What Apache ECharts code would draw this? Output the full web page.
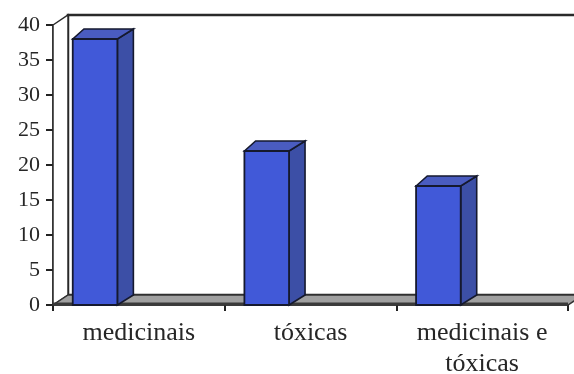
<!DOCTYPE html>
<html>
<head>
<meta charset="utf-8">
<script src="https://cdn.jsdelivr.net/npm/echarts@6/dist/echarts.min.js"></script>
<style>
html,body{margin:0;padding:0;background:#fff;}
#chart{width:574px;height:374px;}
</style>
</head>
<body>
<div id="chart"></div>
<script>
var categories = ['medicinais', 'tóxicas', 'medicinais e\ntóxicas'];
var values = [38, 22, 17];
var yTicks = { min: 0, max: 40, interval: 5 };

var DX = 15, DY = -10;      // wall depth offset
var BDX = 16, BDY = -10;    // bar depth offset

var chart = echarts.init(document.getElementById('chart'), null, { renderer: 'canvas' });

function renderWalls(params, api) {
  var cs = params.coordSys;
  var x0 = cs.x, y0 = cs.y, x1 = cs.x + cs.width, y1 = cs.y + cs.height;
  return {
    type: 'group',
    children: [
      { // back wall
        type: 'rect',
        shape: { x: x0 + DX, y: y0 + DY, width: cs.width, height: cs.height },
        style: { fill: '#ffffff', stroke: '#2a2a2a', lineWidth: 2.5 }
      },
      { // left wall
        type: 'polygon',
        shape: { points: [[x0, y0], [x0 + DX, y0 + DY], [x0 + DX, y1 + DY], [x0, y1]] },
        style: { fill: '#ffffff', stroke: '#2a2a2a', lineWidth: 1.5 }
      },
      { // floor
        type: 'polygon',
        shape: { points: [[x0, y1], [x1, y1], [x1 + DX, y1 + DY], [x0 + DX, y1 + DY]] },
        style: { fill: '#a0a0a0', stroke: '#333333', lineWidth: 1.5 }
      },
      { // floor front thickness
        type: 'rect',
        shape: { x: x0, y: y1 - 2.5, width: cs.width, height: 2.5 },
        style: { fill: '#3a3a3a' }
      }
    ]
  };
}

function renderBar(params, api) {
  var idx = api.value(0);
  var top = api.coord([idx, api.value(1)]);
  var base = api.coord([idx, 0]);
  var band = api.size([1, 0])[0];
  var left = top[0] - 0.385 * band;
  var w = 0.26 * band;
  var right = left + w;
  var ty = top[1], by = base[1];
  return {
    type: 'group',
    children: [
      {
        type: 'polygon',
        shape: { points: [[right, ty], [right + BDX, ty + BDY], [right + BDX, by + BDY], [right, by]] },
        style: { fill: '#3c4fa6', stroke: '#15192e', lineWidth: 1.6 }
      },
      {
        type: 'polygon',
        shape: { points: [[left, ty], [left + BDX * 0.7, ty + BDY], [right + BDX, ty + BDY], [right, ty]] },
        style: { fill: '#4a5cc0', stroke: '#15192e', lineWidth: 1.6 }
      },
      {
        type: 'rect',
        shape: { x: left, y: ty, width: w, height: by - ty },
        style: { fill: '#4159d8', stroke: '#15192e', lineWidth: 1.8 }
      }
    ]
  };
}

chart.setOption({
  animation: false,
  backgroundColor: '#ffffff',
  grid: { left: 53, right: 6, top: 25, bottom: 69, containLabel: false, outerBoundsMode: 'none' },
  xAxis: {
    type: 'category',
    data: categories,
    boundaryGap: true,
    axisLine: { show: true, lineStyle: { color: '#222', width: 1.5 } },
    axisTick: { show: true, alignWithLabel: false, length: 6, lineStyle: { color: '#222', width: 2 } },
    axisLabel: {
      margin: 13,
      fontFamily: 'Liberation Serif',
      fontSize: 26,
      lineHeight: 31,
      color: '#262626',
      interval: 0
    },
    splitLine: { show: false }
  },
  yAxis: {
    type: 'value',
    min: yTicks.min,
    max: yTicks.max,
    interval: yTicks.interval,
    axisLine: { show: true, lineStyle: { color: '#222', width: 1.5 } },
    axisTick: { show: true, length: 7, lineStyle: { color: '#222', width: 2 } },
    axisLabel: {
      margin: 13,
      fontFamily: 'Liberation Serif',
      fontSize: 22,
      color: '#262626'
    },
    splitLine: { show: false }
  },
  series: [
    {
      type: 'custom',
      z: 1,
      clip: false,
      silent: true,
      renderItem: renderWalls,
      data: [[0, 0]]
    },
    {
      type: 'custom',
      z: 3,
      clip: false,
      renderItem: renderBar,
      encode: { x: 0, y: 1 },
      data: values.map(function (v, i) { return [i, v]; })
    }
  ]
});
</script>
</body>
</html>
